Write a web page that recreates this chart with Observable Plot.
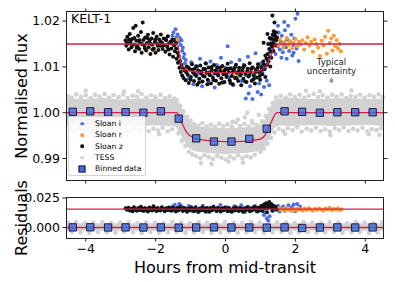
<!DOCTYPE html>
<html>
<head>
<meta charset="utf-8">
<script src="https://cdn.jsdelivr.net/npm/d3@7"></script>
<script src="https://cdn.jsdelivr.net/npm/@observablehq/plot@0.6"></script>
<style>
  html, body { margin: 0; padding: 0; background: #fff; }
  #wrap { position: relative; width: 395px; height: 282px; font-family: "DejaVu Sans", sans-serif; overflow: hidden; }
  #wrap svg { position: absolute; left: 0; }
  .ylab { position: absolute; font-size: 16px; white-space: nowrap; transform: translate(-50%, -50%) rotate(-90deg); }
  .xlab { position: absolute; font-size: 16px; white-space: nowrap; transform: translate(-50%, -50%); }
  #legend { position: absolute; left: 68px; top: 116px; width: 78px; height: 60px; background: rgba(255,255,255,0.8);
            border: 1px solid #d4d4d4; border-radius: 2px; font-size: 7.7px; box-sizing: border-box; padding-top: 1px; }
  #legend .row { position: relative; height: 11.3px; line-height: 11.3px; }
  #legend .mk { position: absolute; left: 13px; top: 50%; transform: translate(-50%, -50%); }
  #legend .tx { position: absolute; left: 26px; }
</style>
</head>
<body>
<div id="wrap"></div>
<script>
// ---------- DATA ----------
const xTicks = [-4, -2, 0, 2, 4];
const fluxTicks = [0.99, 1.00, 1.01, 1.02];
const resTicks = [0.000, 0.025];

// Sloan z (black), offset light curve
const sloanZ = [
[-2.86,1.0158],[-2.84,1.0146],[-2.81,1.0166],[-2.79,1.0151],[-2.77,1.0138],[-2.74,1.0172],[-2.72,1.0155],[-2.69,1.0143],[-2.67,1.0161],[-2.64,1.0185],[-2.62,1.0149],[-2.59,1.0134],[-2.57,1.0190],[-2.55,1.0157],[-2.52,1.0145],[-2.50,1.0168],[-2.47,1.0139],[-2.45,1.0153],[-2.42,1.0176],[-2.40,1.0131],[-2.37,1.0197],[-2.35,1.0159],[-2.32,1.0147],[-2.30,1.0164],[-2.27,1.0136],[-2.25,1.0152],[-2.22,1.0170],[-2.20,1.0143],[-2.17,1.0158],[-2.15,1.0128],[-2.12,1.0162],[-2.10,1.0149],[-2.07,1.0174],[-2.05,1.0140],[-2.02,1.0155],[-2.00,1.0131],[-1.97,1.0166],[-1.95,1.0150],[-1.92,1.0137],[-1.90,1.0160],[-1.87,1.0146],[-1.85,1.0171],[-1.82,1.0153],[-1.80,1.0139],[-1.77,1.0162],[-1.75,1.0148],[-1.72,1.0133],[-1.70,1.0158],[-1.67,1.0144],[-1.65,1.0167],[-1.62,1.0151],[-1.60,1.0127],[-1.57,1.0155],[-1.55,1.0140],[-1.52,1.0160],[-1.50,1.0122],[-1.47,1.0147],[-1.45,1.0134],[-1.42,1.0152],[-1.40,1.0118],
[-2.83,1.0152],[-2.76,1.0160],[-2.68,1.0148],[-2.61,1.0163],[-2.54,1.0142],[-2.46,1.0158],[-2.39,1.0150],[-2.31,1.0141],[-2.24,1.0163],[-2.16,1.0151],[-2.09,1.0138],[-2.01,1.0160],[-1.94,1.0146],[-1.86,1.0155],[-1.79,1.0147],[-1.71,1.0161],[-1.64,1.0138],[-1.56,1.0152],[-1.48,1.0159],[-1.41,1.0140],
[-1.38,1.0131],[-1.36,1.0109],[-1.34,1.0124],[-1.32,1.0098],[-1.30,1.0113],[-1.28,1.0089],[-1.26,1.0104],[-1.24,1.0081],[-1.22,1.0097],[-1.20,1.0076],
[-1.17,1.0092],[-1.14,1.0071],[-1.11,1.0101],[-1.08,1.0083],[-1.05,1.0065],[-1.02,1.0095],[-0.99,1.0078],[-0.96,1.0106],[-0.93,1.0088],[-0.90,1.0069],[-0.87,1.0097],[-0.84,1.0080],[-0.81,1.0061],[-0.78,1.0092],[-0.75,1.0074],[-0.72,1.0103],[-0.69,1.0085],[-0.66,1.0068],[-0.63,1.0096],[-0.60,1.0079],[-0.57,1.0108],[-0.54,1.0087],[-0.51,1.0072],[-0.48,1.0099],[-0.45,1.0082],[-0.42,1.0064],[-0.39,1.0093],[-0.36,1.0076],[-0.33,1.0104],[-0.30,1.0086],[-0.27,1.0070],[-0.24,1.0098],[-0.21,1.0081],[-0.18,1.0063],[-0.15,1.0091],[-0.12,1.0075],[-0.09,1.0102],[-0.06,1.0084],[-0.03,1.0067],[0.00,1.0095],[0.03,1.0078],[0.06,1.0107],[0.09,1.0089],[0.12,1.0071],[0.15,1.0097],[0.18,1.0080],[0.21,1.0062],[0.24,1.0093],[0.27,1.0076],[0.30,1.0105],[0.33,1.0087],[0.36,1.0069],[0.39,1.0098],[0.42,1.0081],[0.45,1.0060],[0.48,1.0092],[0.51,1.0074],[0.54,1.0103],[0.57,1.0085],[0.60,1.0067],[0.63,1.0096],[0.66,1.0079],[0.69,1.0108],[0.72,1.0088],[0.75,1.0070],[0.78,1.0099],[0.81,1.0082],[0.84,1.0064],[0.87,1.0094],[0.90,1.0077],[0.93,1.0106],[0.96,1.0089],[0.99,1.0072],[1.02,1.0100],[1.05,1.0084],[1.08,1.0112],[1.11,1.0095],[1.14,1.0078],[1.17,1.0118],
[-1.12,1.0088],[-1.06,1.0099],[-1.00,1.0072],[-0.94,1.0094],[-0.88,1.0084],[-0.82,1.0101],[-0.76,1.0066],[-0.70,1.0090],[-0.64,1.0080],[-0.58,1.0095],[-0.52,1.0062],[-0.46,1.0088],[-0.40,1.0100],[-0.34,1.0071],[-0.28,1.0092],[-0.22,1.0085],[-0.16,1.0099],[-0.10,1.0066],[-0.04,1.0090],[0.02,1.0083],[0.08,1.0096],[0.14,1.0065],[0.20,1.0089],[0.26,1.0098],[0.32,1.0075],[0.38,1.0091],[0.44,1.0084],[0.50,1.0099],[0.56,1.0068],[0.62,1.0090],[0.68,1.0082],[0.74,1.0096],[0.80,1.0073],[0.86,1.0089],[0.92,1.0098],[0.98,1.0080],[1.04,1.0093],[1.10,1.0105],
[1.19,1.0105],[1.21,1.0128],[1.23,1.0112],[1.25,1.0139],[1.27,1.0121],[1.29,1.0150],[1.30,1.0133],[1.32,1.0162],[1.33,1.0145],[1.34,1.0212],[1.35,1.0170],[1.36,1.0152],[1.38,1.0178],[1.39,1.0160],[1.40,1.0197],[1.41,1.0168],[1.42,1.0148],[1.44,1.0175],[1.45,1.0158],[1.47,1.0165],[1.22,1.0150],[1.26,1.0163],[1.28,1.0101],[1.31,1.0120],[1.37,1.0135],[1.09,1.0153],[1.20,1.0172],[1.14,1.0125]
];

// Sloan i (blue)
const sloanI = [
[-1.52,1.0168],[-1.49,1.0175],[-1.46,1.0160],[-1.43,1.0182],[-1.40,1.0165],[-1.37,1.0171],[-1.34,1.0155],[-1.31,1.0163],[-1.28,1.0148],[-1.26,1.0158],[-1.24,1.0135],[-1.22,1.0142],[-1.20,1.0120],[-1.18,1.0128],[-1.16,1.0108],[-1.14,1.0115],
[-1.10,1.0098],[-1.05,1.0075],[-0.98,1.0110],[-0.92,1.0062],[-0.85,1.0102],[-0.79,1.0085],[-0.73,1.0118],[-0.67,1.0058],[-0.61,1.0095],[-0.55,1.0107],[-0.49,1.0070],[-0.43,1.0112],[-0.37,1.0080],[-0.31,1.0055],[-0.25,1.0104],[-0.19,1.0090],[-0.13,1.0120],[-0.07,1.0066],[0.00,1.0098],[0.06,1.0145],[0.10,1.0078],[0.16,1.0110],[0.22,1.0060],[0.28,1.0100],[0.34,1.0088],[0.40,1.0115],[0.46,1.0069],[0.52,1.0105],[0.58,1.0082],[0.64,1.0122],[0.70,1.0058],[0.76,1.0099],[0.82,1.0075],[0.86,1.0130],[0.90,1.0092],[0.96,1.0064],[1.02,1.0108],[1.06,1.0085],[1.10,1.0056],[1.14,1.0098],[1.18,1.0070],[1.22,1.0112],[1.25,1.0060],
[0.58,1.0031],[0.77,1.0030],[0.66,1.0042],[0.92,1.0045],[1.02,1.0040],
[1.28,1.0135],[1.31,1.0158],[1.34,1.0142],[1.37,1.0170],[1.40,1.0150],[1.43,1.0128],[1.46,1.0162],[1.49,1.0145],[1.52,1.0175],[1.55,1.0138],[1.58,1.0155],[1.61,1.0168],[1.64,1.0132],[1.67,1.0150],[1.70,1.0180],[1.73,1.0143],[1.76,1.0160],[1.79,1.0190],[1.82,1.0135],[1.85,1.0155],[1.88,1.0170],[1.91,1.0125],[1.94,1.0148],[1.97,1.0162],[2.00,1.0205],[2.03,1.0140],[2.06,1.0216],[2.09,1.0113],[2.12,1.0152],[1.60,1.0120],[1.75,1.0118],[1.95,1.0131],[1.50,1.0190],[1.68,1.0198]
];

// Sloan r (orange)
const sloanR = [
[-2.05,1.0135],[-1.90,1.0148],[-1.60,1.0138],[-1.45,1.0152],[-1.38,1.0160],
[-1.10,1.0095],[-0.90,1.0090],[-0.50,1.0085],[-0.10,1.0093],[0.30,1.0082],[0.50,1.0090],[0.70,1.0095],[0.95,1.0088],
[1.35,1.0152],[1.40,1.0145],[1.45,1.0158],[1.50,1.0148],[1.55,1.0160],[1.60,1.0150],[1.65,1.0142],[1.70,1.0155],[1.75,1.0163],[1.80,1.0147],[1.85,1.0156],[1.90,1.0140],[1.95,1.0152],[2.00,1.0161],[2.05,1.0145],[2.10,1.0155],[2.15,1.0149],[2.20,1.0158],[2.25,1.0138],[2.30,1.0152],[2.35,1.0165],[2.40,1.0146],[2.45,1.0155],[2.50,1.0133],[2.55,1.0160],[2.60,1.0150],[2.65,1.0142],[2.70,1.0124],[2.75,1.0157],[2.80,1.0147],[2.85,1.0166],[2.90,1.0129],[2.94,1.0179],[2.98,1.0152],[3.02,1.0162],[3.06,1.0136],[3.10,1.0168],[3.14,1.0145],[3.18,1.0158],[3.22,1.0140],[3.26,1.0150],[3.30,1.0134]
];

// TESS: dense core band (envelope) plus edge points
const tessX  = [-4.55,-4.0,-3.5,-3.0,-2.5,-2.0,-1.6,-1.42,-1.36,-1.30,-1.24,-1.18,-1.10,-1.0,-0.9,-0.6,-0.3,0,0.3,0.6,0.9,1.0,1.1,1.18,1.24,1.30,1.36,1.42,1.5,1.6,2.0,2.5,3.0,3.5,4.0,4.52];
const tessHi = [1.0030,1.0029,1.0031,1.0028,1.0030,1.0029,1.0030,1.0028,1.0025,1.0018,1.0008,0.9999,0.9989,0.9979,0.9973,0.9968,0.9966,0.9965,0.9966,0.9967,0.9970,0.9973,0.9980,0.9990,1.0000,1.0011,1.0020,1.0026,1.0029,1.0030,1.0031,1.0029,1.0030,1.0031,1.0029,1.0030];
const tessLo = [0.9971,0.9972,0.9970,0.9972,0.9970,0.9971,0.9970,0.9968,0.9962,0.9954,0.9946,0.9938,0.9928,0.9920,0.9916,0.9912,0.9910,0.9909,0.9910,0.9911,0.9914,0.9916,0.9921,0.9929,0.9938,0.9949,0.9959,0.9966,0.9970,0.9971,0.9970,0.9972,0.9970,0.9971,0.9972,0.9970];
const tessPts = [
[-4.50,1.0036],[-4.45,0.9966],[-4.40,1.0033],[-4.33,0.9961],[-4.27,1.0040],[-4.20,0.9967],[-4.14,1.0034],[-4.07,0.9963],[-4.00,1.0038],[-3.93,0.9966],[-3.86,1.0032],[-3.80,0.9960],[-3.73,1.0039],[-3.66,0.9964],[-3.60,1.0035],[-3.53,0.9968],[-3.46,1.0041],[-3.40,0.9962],[-3.33,1.0033],[-3.26,0.9965],[-3.20,1.0038],[-3.13,0.9959],[-3.06,1.0034],[-3.00,0.9967],[-2.93,1.0040],[-2.86,0.9963],[-2.80,1.0032],[-2.73,0.9960],[-2.66,1.0037],[-2.60,0.9966],[-2.53,1.0035],[-2.46,0.9962],[-2.40,1.0041],[-2.33,0.9968],[-2.26,1.0033],[-2.20,0.9960],[-2.13,1.0038],[-2.06,0.9965],[-2.00,1.0034],[-1.93,0.9961],[-1.86,1.0039],[-1.80,0.9967],[-1.73,1.0032],[-1.66,0.9959],[-1.60,1.0036],[-1.53,0.9964],
[-4.00,1.0048],[-3.20,0.9952],[-2.50,1.0047],[-1.90,0.9953],[-3.70,0.9955],[-2.90,1.0046],
[-1.46,1.0031],[-1.40,1.0027],[-1.35,0.9955],[-1.30,1.0015],[-1.25,0.9939],[-1.20,1.0003],[-1.15,0.9927],[-1.10,0.9991],[-1.05,0.9915],[-1.00,0.9983],
[-0.95,0.9909],[-0.90,0.9975],[-0.84,0.9905],[-0.78,0.9972],[-0.72,0.9901],[-0.66,0.9977],[-0.60,0.9907],[-0.54,0.9970],[-0.48,0.9903],[-0.42,0.9974],[-0.36,0.9899],[-0.30,0.9969],[-0.24,0.9906],[-0.18,0.9976],[-0.12,0.9902],[-0.06,0.9971],[0.00,0.9898],[0.06,0.9975],[0.12,0.9904],[0.18,0.9969],[0.24,0.9900],[0.30,0.9978],[0.36,0.9907],[0.42,0.9971],[0.48,0.9901],[0.54,0.9976],[0.60,0.9905],[0.66,0.9970],[0.72,0.9902],[0.78,0.9977],[0.84,0.9908],[0.90,0.9973],
[-0.70,0.9890],[0.09,0.9893],[0.50,0.9891],[0.35,0.9985],[0.55,0.9990],[0.75,0.9982],[0.95,0.9995],[0.20,0.9980],[0.62,1.0000],[-0.40,0.9888],
[1.00,0.9915],[1.05,0.9981],[1.10,0.9922],[1.15,0.9993],[1.20,0.9932],[1.25,1.0008],[1.30,0.9945],[1.35,1.0021],[1.40,0.9957],[1.45,1.0033],
[1.52,0.9965],[1.58,1.0037],[1.65,0.9960],[1.72,1.0033],[1.78,0.9966],[1.85,1.0040],[1.92,0.9962],[1.98,1.0034],[2.05,0.9968],[2.12,1.0039],[2.18,0.9959],[2.25,1.0032],[2.32,0.9965],[2.38,1.0037],[2.45,0.9961],[2.52,1.0041],[2.58,0.9967],[2.65,1.0034],[2.72,0.9960],[2.78,1.0038],[2.85,0.9964],[2.92,1.0033],[2.98,0.9959],[3.05,1.0039],[3.12,0.9966],[3.18,1.0035],[3.25,0.9962],[3.32,1.0040],[3.38,0.9968],[3.45,1.0032],[3.52,0.9960],[3.58,1.0037],[3.65,0.9965],[3.72,1.0034],[3.78,0.9961],[3.85,1.0039],[3.92,0.9967],[3.98,1.0033],[4.05,0.9959],[4.12,1.0038],[4.18,0.9964],[4.25,1.0035],[4.32,0.9962],[4.38,1.0040],[4.45,0.9966],[4.50,1.0034],
[2.30,1.0048],[3.00,0.9951],[3.60,1.0049],[4.10,0.9953],[1.70,0.9954],[2.70,1.0047],[4.40,0.9952]
];

// Models
const modelGX = [-4.55,-1.38,-1.34,-1.30,-1.26,-1.24,-1.15,-0.9,-0.5,0,0.5,0.9,1.05,1.15,1.22,1.30,1.38,1.43,4.52];
const modelGY = [1.0150,1.0150,1.0138,1.0120,1.0102,1.0095,1.0093,1.0090,1.0088,1.0087,1.0088,1.0090,1.0094,1.0100,1.0110,1.0124,1.0142,1.0150,1.0150];
const modelTX = [-4.55,-1.40,-1.36,-1.32,-1.28,-1.24,-1.20,-1.15,-1.10,-1.0,-0.9,-0.6,-0.3,0,0.3,0.6,0.9,1.0,1.1,1.18,1.24,1.30,1.36,1.42,1.48,4.52];
const modelTY = [1.0000,1.0000,0.9997,0.9990,0.9983,0.9976,0.9970,0.9962,0.9956,0.9949,0.9945,0.9940,0.9938,0.9937,0.9937,0.9938,0.9941,0.9943,0.9948,0.9958,0.9968,0.9978,0.9988,0.9997,1.0000,1.0000];

// Binned TESS data
const binX = [-4.37,-3.87,-3.36,-2.86,-2.35,-1.85,-1.34,-0.84,-0.33,0.17,0.68,1.18,1.69,2.19,2.70,3.20,3.71,4.21];
const binY = [1.0002,1.0003,1.0001,1.0001,1.0000,1.0003,0.9987,0.9944,0.9937,0.9937,0.9943,0.9965,1.0003,1.0002,1.0000,1.0001,1.0001,1.0001];
const binRes = [0.0001,0.0002,0.0000,0.0001,0.0000,0.0001,-0.0001,0.0000,0.0001,0.0000,0.0000,-0.0001,0.0001,-0.0004,0.0000,0.0001,0.0000,0.0001];

// Typical uncertainty
const uncX = [3.03], uncY = [1.0070], uncErr = [0.0006];

// Residuals
const resOffset = 0.0155;
const resZ = [
[-2.86,0.0162],[-2.82,0.0150],[-2.78,0.0168],[-2.74,0.0145],[-2.70,0.0159],[-2.66,0.0138],[-2.62,0.0171],[-2.58,0.0153],[-2.54,0.0142],[-2.50,0.0165],[-2.46,0.0149],[-2.42,0.0175],[-2.38,0.0157],[-2.34,0.0140],[-2.30,0.0163],[-2.26,0.0151],[-2.22,0.0136],[-2.18,0.0169],[-2.14,0.0155],[-2.10,0.0144],[-2.06,0.0180],[-2.02,0.0152],[-1.98,0.0139],[-1.94,0.0166],[-1.90,0.0150],[-1.86,0.0143],[-1.82,0.0172],[-1.78,0.0156],[-1.74,0.0137],[-1.70,0.0164],[-1.66,0.0148],[-1.62,0.0170],[-1.58,0.0153],[-1.54,0.0141],[-1.50,0.0167],[-1.46,0.0150],[-1.42,0.0135],[-1.38,0.0163],[-1.34,0.0147],[-1.30,0.0174],[-1.26,0.0155],[-1.22,0.0139],[-1.18,0.0166],[-1.14,0.0149],[-1.10,0.0133],[-1.06,0.0161],[-1.02,0.0146],[-0.98,0.0171],[-0.94,0.0152],[-0.90,0.0137],[-0.86,0.0165],[-0.82,0.0148],[-0.78,0.0132],[-0.74,0.0160],[-0.70,0.0145],[-0.66,0.0172],[-0.62,0.0154],[-0.58,0.0138],[-0.54,0.0166],[-0.50,0.0149],[-0.46,0.0134],[-0.42,0.0162],[-0.38,0.0146],[-0.34,0.0173],[-0.30,0.0155],[-0.26,0.0140],[-0.22,0.0167],[-0.18,0.0150],[-0.14,0.0135],[-0.10,0.0163],[-0.06,0.0147],[-0.02,0.0170],[0.02,0.0153],[0.06,0.0138],[0.10,0.0166],[0.14,0.0149],[0.18,0.0133],[0.22,0.0161],[0.26,0.0145],[0.30,0.0172],[0.34,0.0154],[0.38,0.0139],[0.42,0.0165],[0.46,0.0148],[0.50,0.0134],[0.54,0.0162],[0.58,0.0146],[0.62,0.0171],[0.66,0.0153],[0.70,0.0137],[0.74,0.0164],[0.78,0.0148],[0.82,0.0176],[0.86,0.0155],[0.90,0.0136],[0.94,0.0168],[0.98,0.0150],[1.02,0.0182],[1.06,0.0140],[1.10,0.0195],[1.13,0.0160],[1.16,0.0205],[1.19,0.0130],[1.22,0.0188],[1.25,0.0215],[1.28,0.0172],[1.31,0.0198],[1.34,0.0145],[1.37,0.0185],[1.40,0.0160],[1.43,0.0175],[1.46,0.0152],
[-2.80,0.0157],[-2.72,0.0151],[-2.64,0.0160],[-2.56,0.0148],[-2.48,0.0158],[-2.40,0.0146],[-2.32,0.0161],[-2.24,0.0155],[-2.16,0.0149],[-2.08,0.0162],[-2.00,0.0157],[-1.92,0.0147],[-1.84,0.0159],[-1.76,0.0152],[-1.68,0.0158],[-1.60,0.0146],[-1.52,0.0160],[-1.44,0.0155],[-1.36,0.0150],[-1.28,0.0161],[-1.20,0.0153],[-1.12,0.0157],[-1.04,0.0148],[-0.96,0.0160],[-0.88,0.0154],[-0.80,0.0147],[-0.72,0.0158],[-0.64,0.0151],[-0.56,0.0160],[-0.48,0.0155],[-0.40,0.0149],[-0.32,0.0159],[-0.24,0.0152],[-0.16,0.0157],[-0.08,0.0148],[0.00,0.0160],[0.08,0.0154],[0.16,0.0147],[0.24,0.0158],[0.32,0.0151],[0.40,0.0160],[0.48,0.0155],[0.56,0.0149],[0.64,0.0159],[0.72,0.0152],[0.80,0.0157],[0.88,0.0163],[0.96,0.0148],[1.04,0.0170],[1.12,0.0178],[1.20,0.0165],[1.27,0.0192],[1.33,0.0168],[1.39,0.0178]
];
const resI = [
[-1.52,0.0178],[-1.45,0.0192],[-1.38,0.0170],[-1.32,0.0200],[-1.28,0.0185],[-1.22,0.0172],[-1.15,0.0160],[-1.05,0.0182],[-0.95,0.0138],[-0.85,0.0175],[-0.75,0.0150],[-0.65,0.0185],[-0.55,0.0132],[-0.45,0.0168],[-0.35,0.0178],[-0.25,0.0140],[-0.15,0.0190],[-0.05,0.0155],[0.05,0.0172],[0.15,0.0135],[0.25,0.0180],[0.35,0.0160],[0.45,0.0188],[0.55,0.0130],[0.65,0.0175],[0.75,0.0145],[0.85,0.0183],[0.95,0.0138],[1.05,0.0172],[1.10,0.0105],[1.15,0.0125],[1.18,0.0078],[1.22,0.0060],[1.26,0.0095],[1.30,0.0180],[1.35,0.0140],[1.40,0.0170],[1.45,0.0150],[1.50,0.0185],[1.55,0.0135],[1.60,0.0165],[1.65,0.0178],[1.70,0.0142],[1.75,0.0160],[1.80,0.0188],[1.85,0.0148],[1.90,0.0172],[1.95,0.0195],[2.00,0.0138],[2.05,0.0200],[2.10,0.0155],[2.13,0.0178]
];
const resR = [
[1.42,0.0160],[1.48,0.0150],[1.54,0.0163],[1.60,0.0148],[1.66,0.0158],[1.72,0.0145],[1.78,0.0162],[1.84,0.0152],[1.90,0.0140],[1.96,0.0158],[2.02,0.0147],[2.08,0.0165],[2.14,0.0152],[2.20,0.0143],[2.26,0.0160],[2.32,0.0149],[2.38,0.0166],[2.44,0.0153],[2.50,0.0141],[2.56,0.0159],[2.62,0.0148],[2.68,0.0164],[2.74,0.0150],[2.80,0.0142],[2.86,0.0161],[2.92,0.0152],[2.98,0.0167],[3.04,0.0146],[3.10,0.0158],[3.16,0.0150],[3.22,0.0162],[3.28,0.0147],[3.32,0.0155]
];
const resBandX = [-4.55, 4.52];
const resBandLo = [-0.0032, -0.0032];
const resBandHi = [0.0032, 0.0032];
const resTess = [
[-4.50,0.0040],[-4.40,-0.0038],[-4.28,0.0044],[-4.15,-0.0042],[-4.02,0.0037],[-3.90,-0.0046],[-3.78,0.0041],[-3.65,-0.0038],[-3.52,0.0047],[-3.40,-0.0041],[-3.27,0.0037],[-3.15,-0.0045],[-3.02,0.0042],[-2.90,-0.0037],[-2.77,0.0045],[-2.65,-0.0040],[-2.52,0.0038],[-2.40,-0.0047],[-2.27,0.0043],[-2.15,-0.0037],[-2.02,0.0040],[-1.90,-0.0044],[-1.77,0.0037],[-1.65,-0.0041],[-1.52,0.0046],[-1.40,-0.0038],[-1.27,0.0042],[-1.15,-0.0045],[-1.02,0.0037],[-0.90,-0.0040],[-0.77,0.0044],[-0.65,-0.0037],[-0.52,0.0041],[-0.40,-0.0047],[-0.27,0.0038],[-0.15,-0.0042],[-0.02,0.0045],[0.10,-0.0037],[0.23,0.0040],[0.35,-0.0044],[0.48,0.0037],[0.60,-0.0041],[0.73,0.0046],[0.85,-0.0038],[0.98,0.0042],[1.10,-0.0045],[1.23,0.0037],[1.35,-0.0040],[1.48,0.0044],[1.60,-0.0037],[1.73,0.0041],[1.85,-0.0047],[1.98,0.0038],[2.10,-0.0042],[2.23,0.0045],[2.35,-0.0037],[2.48,0.0040],[2.60,-0.0044],[2.73,0.0037],[2.85,-0.0041],[2.98,0.0046],[3.10,-0.0038],[3.23,0.0042],[3.35,-0.0045],[3.48,0.0037],[3.60,-0.0040],[3.73,0.0044],[3.85,-0.0037],[3.98,0.0041],[4.10,-0.0047],[4.23,0.0038],[4.35,-0.0042],[4.48,0.0045]
];

// ---------- STYLE ----------
const C = { i: "#4a6fe3", r: "#ff9a2e", z: "#111111", tess: "#d2d2d2", model: "#d81e4a", binFill: "#4169e1", binStroke: "#1c1c3a" };
const R = 2.0, SQ = 7.5;
const xDomain = [-4.55, 4.52];
const font = "DejaVu Sans";

const pts = a => a.map(([x, y]) => ({x, y}));
const tessBand = tessX.map((x, k) => ({x, lo: tessLo[k], hi: tessHi[k]}));
const modelG = modelGX.map((x, k) => ({x, y: modelGY[k]}));
const modelT = modelTX.map((x, k) => ({x, y: modelTY[k]}));
const bins = binX.map((x, k) => ({x, y: binY[k], r: binRes[k]}));
const unc = uncX.map((x, k) => ({x, y: uncY[k], e: uncErr[k]}));
const resBand = resBandX.map((x, k) => ({x, lo: resBandLo[k], hi: resBandHi[k]}));

const blank = () => "";
const axisCommon = {tickSize: 3.5, label: null, stroke: "#222"};

const topPlot = Plot.plot({
  width: 395, height: 190,
  marginLeft: 66, marginRight: 12, marginTop: 11, marginBottom: 10,
  x: {domain: xDomain},
  y: {domain: [0.9852, 1.0221]},
  style: {fontFamily: font, fontSize: "12.5px", background: "transparent", color: "#000"},
  marks: [
    Plot.areaY(tessBand, {x: "x", y1: "lo", y2: "hi", curve: "monotone-x", fill: C.tess}),
    Plot.dot(pts(tessPts), {x: "x", y: "y", r: R + 0.3, fill: C.tess}),
    Plot.dot(pts(sloanI), {x: "x", y: "y", r: R, fill: C.i}),
    Plot.dot(pts(sloanR), {x: "x", y: "y", r: R, fill: C.r}),
    Plot.dot(pts(sloanZ), {x: "x", y: "y", r: R, fill: C.z}),
    Plot.line(modelG, {x: "x", y: "y", curve: "monotone-x", stroke: C.model, strokeWidth: 1.3}),
    Plot.line(modelT, {x: "x", y: "y", curve: "monotone-x", stroke: C.model, strokeWidth: 1.3}),
    Plot.dot(bins, {x: "x", y: "y", symbol: "square", r: SQ / 2 * 1.1, fill: C.binFill, fillOpacity: 0.8, stroke: C.binStroke, strokeWidth: 1}),
    Plot.ruleX(unc, {x: "x", y1: d => d.y - d.e, y2: d => d.y + d.e, stroke: "#999", strokeWidth: 1}),
    Plot.dot(unc, {x: "x", y: "y", r: 2, fill: "#999"}),
    Plot.text(unc, {x: "x", y: d => d.y + 0.0031, text: () => "Typical\nuncertainty", fontSize: 8.6, lineHeight: 1.1, fill: "#222", lineAnchor: "middle"}),
    Plot.text(["KELT-1"], {frameAnchor: "top-left", dx: 4.5, dy: 2.5, lineAnchor: "top", textAnchor: "start", fontSize: 12.5, fill: "#000"}),
    Plot.axisY({...axisCommon, anchor: "left", ticks: fluxTicks, tickFormat: d3.format(".2f"), tickPadding: 3}),
    Plot.axisY({...axisCommon, anchor: "right", ticks: fluxTicks, tickFormat: blank}),
    Plot.axisX({...axisCommon, anchor: "bottom", ticks: xTicks, tickFormat: blank}),
    Plot.axisX({...axisCommon, anchor: "top", ticks: xTicks, tickFormat: blank}),
    Plot.frame({stroke: "#222", strokeWidth: 1})
  ]
});
topPlot.style.top = "0px";

const bottomPlot = Plot.plot({
  width: 395, height: 92,
  marginLeft: 66, marginRight: 12, marginTop: 7, marginBottom: 44,
  x: {domain: xDomain},
  y: {domain: [-0.0093, 0.0254]},
  style: {fontFamily: font, fontSize: "12.5px", background: "transparent", color: "#000"},
  marks: [
    Plot.areaY(resBand, {x: "x", y1: "lo", y2: "hi", fill: C.tess}),
    Plot.dot(pts(resTess), {x: "x", y: "y", r: R + 0.3, fill: C.tess}),
    Plot.dot(pts(resI), {x: "x", y: "y", r: R, fill: C.i}),
    Plot.dot(pts(resR), {x: "x", y: "y", r: R, fill: C.r}),
    Plot.dot(pts(resZ), {x: "x", y: "y", r: R, fill: C.z}),
    Plot.ruleY([0, resOffset], {stroke: C.model, strokeWidth: 1.3}),
    Plot.dot(bins, {x: "x", y: "r", symbol: "square", r: SQ / 2 * 1.1, fill: C.binFill, fillOpacity: 0.8, stroke: C.binStroke, strokeWidth: 1}),
    Plot.axisY({...axisCommon, anchor: "left", ticks: resTicks, tickFormat: d3.format(".3f"), tickPadding: 3}),
    Plot.axisX({...axisCommon, anchor: "bottom", ticks: xTicks, tickFormat: d => d < 0 ? "\u2212" + Math.abs(d) : String(d), tickPadding: 2.5}),
    Plot.frame({stroke: "#222", strokeWidth: 1})
  ]
});
bottomPlot.style.top = "190px";

const wrap = document.getElementById("wrap");
wrap.appendChild(topPlot);
wrap.appendChild(bottomPlot);

function addDiv(cls, text, left, topPx) {
  const d = document.createElement("div");
  d.className = cls; d.textContent = text;
  d.style.left = left + "px"; d.style.top = topPx + "px";
  wrap.appendChild(d);
}
addDiv("ylab", "Normalised flux", 21, 95.5);
addDiv("ylab", "Residuals", 21, 217.5);
addDiv("xlab", "Hours from mid-transit", 225, 267);

// Legend
const legendItems = [
  {label: "Sloan i", kind: "dot", color: C.i},
  {label: "Sloan r", kind: "dot", color: C.r},
  {label: "Sloan z", kind: "dot", color: C.z},
  {label: "TESS", kind: "dot", color: C.tess},
  {label: "Binned data", kind: "square", color: C.binFill}
];
const leg = document.createElement("div");
leg.id = "legend";
legendItems.forEach(it => {
  const row = document.createElement("div"); row.className = "row";
  const mk = document.createElement("div"); mk.className = "mk";
  if (it.kind === "dot") {
    mk.style.width = "3.6px"; mk.style.height = "3.6px"; mk.style.borderRadius = "50%"; mk.style.background = it.color;
  } else {
    mk.style.width = "7px"; mk.style.height = "7px"; mk.style.background = it.color; mk.style.border = "1px solid " + C.binStroke; mk.style.boxSizing = "border-box";
  }
  const tx = document.createElement("div"); tx.className = "tx"; tx.textContent = it.label;
  row.appendChild(mk); row.appendChild(tx); leg.appendChild(row);
});
wrap.appendChild(leg);
</script>
</body>
</html>
